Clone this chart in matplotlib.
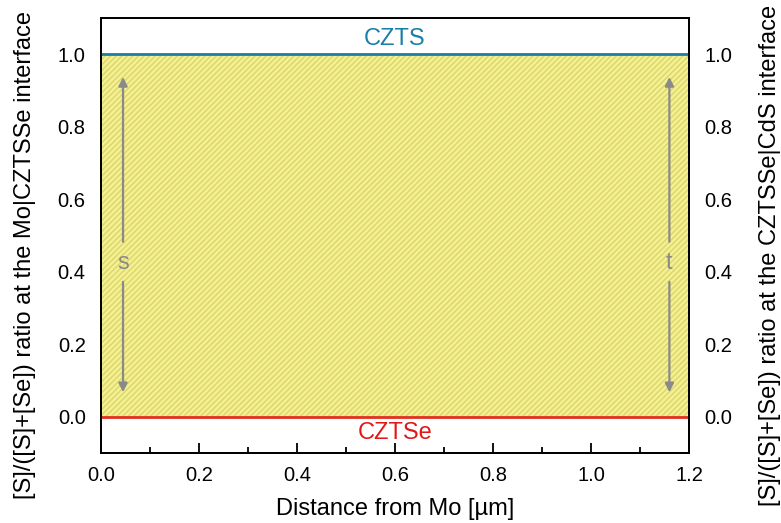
import numpy as np
import matplotlib.pyplot as plt

# data
x_range = [0.0, 1.2]
s_bottom = [0.0, 0.0]
s_top = [1.0, 1.0]
xticks = [0.0, 0.2, 0.4, 0.6, 0.8, 1.0, 1.2]
yticks = [0.0, 0.2, 0.4, 0.6, 0.8, 1.0]
arrow_x = {'s': 0.045, 't': 1.16}
arrow_y = [0.06, 0.945]

plt.rcParams['font.family'] = ['Liberation Sans', 'DejaVu Sans']
plt.rcParams['hatch.linewidth'] = 1.0
plt.rcParams['hatch.color'] = '#dcd56c'

fig = plt.figure(figsize=(7.81, 5.23), dpi=100)
ax = fig.add_axes([0.1293, 0.1338, 0.7529, 0.8318])

ax.fill_between(x_range, s_bottom, s_top, facecolor='#f4f192', edgecolor='#dcd56c',
                hatch='//////', linewidth=0, zorder=1)
ax.plot(x_range, s_top, color='#1a7fa8', lw=2, zorder=3)
ax.plot(x_range, s_bottom, color='#e03020', lw=2, zorder=3)

ax.text(0.6, 1.042, 'CZTS', color='#1a7fa8', fontsize=17, ha='center', va='center')
ax.text(0.6, -0.045, 'CZTSe', color='#e01818', fontsize=17, ha='center', va='center')

for lab, xa in arrow_x.items():
    # split double arrow with label in the middle
    ax.annotate('', xy=(xa, arrow_y[1]), xytext=(xa, 0.475),
                arrowprops=dict(arrowstyle='-|>', color='#8a8a8a', lw=1.6, mutation_scale=13))
    ax.annotate('', xy=(xa, arrow_y[0]), xytext=(xa, 0.38),
                arrowprops=dict(arrowstyle='-|>', color='#8a8a8a', lw=1.6, mutation_scale=13))
    ax.text(xa, 0.425, lab, color='#8a8a8a', fontsize=17, ha='center', va='center')

ax.set_xlim(0, 1.2)
ax.set_ylim(-0.1, 1.1)
ax.set_xticks(xticks)
ax.set_xticks(np.arange(0.1, 1.2, 0.2), minor=True)
ax.set_xticklabels(['%.1f' % v for v in xticks])
ax.tick_params(axis='x', which='major', direction='in', length=7, width=1.3, labelsize=14.5, pad=9)
ax.tick_params(axis='x', which='minor', direction='in', length=4, width=1.3)

ax.set_yticks(yticks)
ax.set_yticklabels(['%.1f' % v for v in yticks])
ax.tick_params(axis='y', which='both', length=0, labelsize=14.5, pad=11)

ax2 = ax.twinx()
ax2.set_ylim(-0.1, 1.1)
ax2.set_yticks(yticks)
ax2.set_yticklabels(['%.1f' % v for v in yticks])
ax2.tick_params(axis='y', length=0, labelsize=14.5, pad=11)

for a in (ax, ax2):
    for sp in a.spines.values():
        sp.set_linewidth(1.3)

ax.set_xlabel('Distance from Mo [µm]', fontsize=17, labelpad=10)
ax.set_ylabel('[S]/([S]+[Se]) ratio at the Mo|CZTSSe interface', fontsize=17)
ax2.set_ylabel('[S]/([S]+[Se]) ratio at the CZTSSe|CdS interface', fontsize=17)
ax.yaxis.set_label_coords(-0.11, 0.455)
ax2.yaxis.set_label_coords(1.119, 0.455)

plt.savefig('out.png', dpi=100)
